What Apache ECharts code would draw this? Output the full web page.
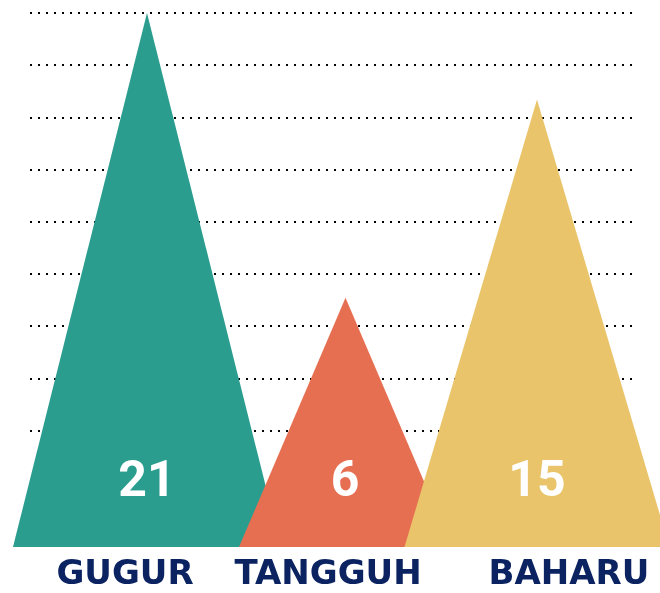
<!DOCTYPE html>
<html>
<head>
<meta charset="utf-8">
<script src="https://cdn.jsdelivr.net/npm/echarts@6/dist/echarts.min.js"></script>
<style>
  html, body { margin: 0; padding: 0; background: #fff; overflow: hidden; }
  #chart { width: 660px; height: 593px; }
</style>
</head>
<body>
<div id="chart"></div>
<script>
// data
const categories = ['GUGUR', 'TANGGUH', 'BAHARU'];
const values = [21, 6, 15];            // printed numbers
const peakHeights = [21, 9.8, 17.6];   // drawn triangle heights (not proportional to values)
const gridTicks = [0, 10];              // dotted guide lines, 0..10

// look
const colors = ['#2a9d8f', '#e76f51', '#e9c46a'];
const triWidths = [268, 213, 265];
const labelShift = [-22, -14, 32];

const chart = echarts.init(document.getElementById('chart'));

const rich = {};
categories.forEach((c, i) => {
  const s = labelShift[i];
  rich['c' + i] = {
    fontFamily: 'DejaVu Sans',
    fontWeight: 'bold',
    fontSize: 34,
    color: '#0b2361',
    padding: s < 0 ? [0, -2 * s, 0, 0] : [0, 0, 0, 2 * s]
  };
});

chart.setOption({
  animation: false,
  grid: [
    { left: 49.5, width: 585, top: 13, height: 539 },
    { left: 30, width: 604, top: 13, height: 522 }
  ],
  xAxis: [
    {
      type: 'category', gridIndex: 0, data: categories,
      axisLine: { show: false }, axisTick: { show: false },
      axisLabel: {
        interval: 0,
        hideOverlap: false,
        margin: 10,
        lineHeight: 36,
        formatter: (v, i) => '{c' + i + '|' + v + '}',
        rich: rich
      }
    },
    {
      type: 'value', gridIndex: 1, show: false, min: 0, max: 1
    }
  ],
  yAxis: [
    {
      type: 'value', gridIndex: 0, min: 0, max: 21, show: false
    },
    {
      type: 'value', gridIndex: 1, min: gridTicks[0], max: gridTicks[1], interval: 1,
      axisLine: { show: false }, axisTick: { show: false }, axisLabel: { show: false },
      splitLine: { show: true, lineStyle: { color: '#000', width: 2, type: [2, 6] } }
    }
  ],
  series: [
    {
      type: 'pictorialBar',
      xAxisIndex: 0, yAxisIndex: 0,
      symbol: 'triangle',
      z: 5,
      data: peakHeights.map((h, i) => ({
        value: h,
        symbolSize: [triWidths[i], '100%'],
        symbolOffset: i === 1 ? [3.5, 0] : [0, 0],
        itemStyle: { color: colors[i] },
        label: {
          show: true,
          position: 'insideBottom',
          distance: 38,
          offset: i === 1 ? [3, 0] : [0, 0],
          formatter: () => String(values[i]),
          color: '#fff',
          fontFamily: 'Roboto',
          fontWeight: 'bold',
          fontSize: 50,
          lineHeight: 52
        }
      }))
    }
  ]
});
</script>
</body>
</html>
